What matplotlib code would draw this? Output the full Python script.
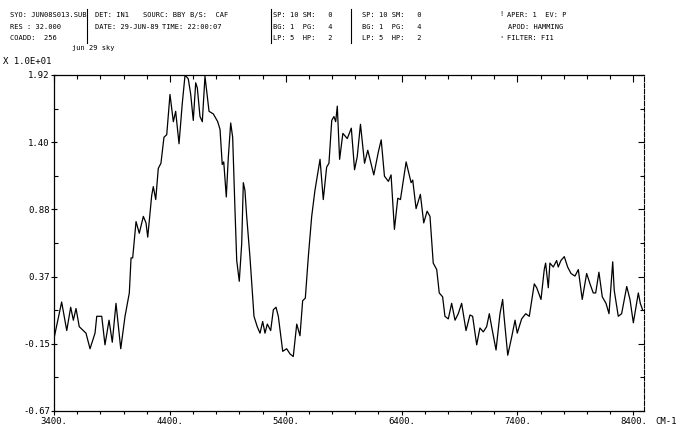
import matplotlib
matplotlib.use("Agg")
import matplotlib.pyplot as plt
from matplotlib.ticker import FixedLocator, MultipleLocator

# ---- data (wavenumber cm-1, signal x 1.0E+01) ----
wavenumber = [
    3400, 3466, 3510, 3544, 3567, 3590, 3618, 3653, 3676, 3711, 3754, 3769, 3812, 3840,
    3875, 3903, 3935, 3976, 4013, 4050, 4065, 4079, 4108, 4136, 4171, 4194, 4209, 4243,
    4257, 4278, 4300, 4323, 4349, 4373, 4401, 4430, 4450, 4479, 4507, 4531, 4559, 4580,
    4602, 4623, 4637, 4660, 4680, 4703, 4738, 4775, 4813, 4833, 4852, 4865, 4887, 4904,
    4925, 4942, 4962, 4977, 4999, 5020, 5034, 5048, 5063, 5091, 5126, 5154, 5178, 5201,
    5221, 5241, 5270, 5293, 5316, 5336, 5374, 5408, 5437, 5465, 5495, 5523, 5546, 5569,
    5595, 5624, 5652, 5696, 5724, 5753, 5773, 5797, 5816, 5831, 5845, 5865, 5893, 5931,
    5966, 5994, 6017, 6045, 6080, 6108, 6160, 6200, 6224, 6252, 6286, 6309, 6338, 6367,
    6390, 6439, 6482, 6496, 6525, 6562, 6591, 6620, 6645, 6673, 6703, 6725, 6754, 6774,
    6803, 6832, 6861, 6889, 6918, 6956, 6990, 7013, 7048, 7076, 7105, 7134, 7157, 7177,
    7215, 7249, 7272, 7284, 7316, 7350, 7379, 7398, 7436, 7471, 7502, 7545, 7566, 7603,
    7631, 7643, 7666, 7680, 7709, 7738, 7752, 7775, 7804, 7833, 7862, 7896, 7925, 7959,
    7997, 8026, 8054, 8075, 8103, 8132, 8164, 8190, 8222, 8235, 8270, 8299, 8343, 8371,
    8400, 8443, 8460, 8480,
]
signal = [
    -0.11, 0.17, -0.05, 0.13, 0.03, 0.12, -0.02, -0.05, -0.07, -0.19, -0.07, 0.06, 0.06, -0.16,
    0.03, -0.14, 0.16, -0.19, 0.06, 0.24, 0.51, 0.51, 0.79, 0.70, 0.83, 0.78, 0.67, 0.99,
    1.06, 0.96, 1.20, 1.24, 1.44, 1.46, 1.77, 1.56, 1.64, 1.39, 1.70, 1.92, 1.89, 1.77,
    1.57, 1.86, 1.82, 1.60, 1.56, 1.91, 1.64, 1.62, 1.56, 1.50, 1.23, 1.25, 0.98, 1.28,
    1.55, 1.44, 0.88, 0.49, 0.33, 0.62, 1.09, 1.03, 0.83, 0.52, 0.06, -0.02, -0.07, 0.02,
    -0.07, 0.00, -0.05, 0.11, 0.13, 0.06, -0.21, -0.19, -0.23, -0.25, 0.00, -0.09, 0.18, 0.20,
    0.52, 0.83, 1.03, 1.27, 0.96, 1.21, 1.24, 1.57, 1.60, 1.56, 1.68, 1.27, 1.47, 1.43,
    1.51, 1.19, 1.29, 1.54, 1.24, 1.34, 1.15, 1.33, 1.42, 1.14, 1.10, 1.15, 0.73, 0.97,
    0.96, 1.25, 1.09, 1.11, 0.89, 1.00, 0.78, 0.87, 0.83, 0.47, 0.42, 0.24, 0.21, 0.06,
    0.04, 0.16, 0.03, 0.08, 0.16, -0.05, 0.07, 0.06, -0.16, -0.03, -0.06, -0.02, 0.08, -0.02,
    -0.20, 0.08, 0.19, 0.06, -0.24, -0.10, 0.03, -0.07, 0.04, 0.08, 0.06, 0.31, 0.28, 0.19,
    0.42, 0.47, 0.28, 0.47, 0.44, 0.49, 0.44, 0.49, 0.52, 0.44, 0.39, 0.37, 0.42, 0.19,
    0.39, 0.31, 0.24, 0.24, 0.40, 0.21, 0.16, 0.08, 0.48, 0.26, 0.06, 0.08, 0.29, 0.19,
    0.01, 0.24, 0.16, 0.11,
]
x_ticks = [3400, 4400, 5400, 6400, 7400, 8400]
x_ticklabels = ["3400.", "4400.", "5400.", "6400.", "7400.", "8400."]
y_ticks = [-0.67, -0.152, 0.366, 0.884, 1.402, 1.92]
y_ticklabels = ["-0.67", "-0.15", "0.37", "0.88", "1.40", "1.92"]

W, H = 684, 428
fig = plt.figure(figsize=(W / 100, H / 100), dpi=100)
mono = "DejaVu Sans Mono"

ax = fig.add_axes([54 / W, 1 - 411 / H, (644 - 54) / W, (411 - 75) / H])
ax.plot(wavenumber, signal, color="black", lw=0.9)
ax.set_xlim(3400, 8492)
ax.set_ylim(-0.67, 1.92)

y_minor = [(a + b) / 2 for a, b in zip(y_ticks[:-1], y_ticks[1:])]

ax.xaxis.set_major_locator(FixedLocator(x_ticks))
ax.set_xticklabels(x_ticklabels, fontfamily=mono, fontsize=6.5)
ax.xaxis.set_minor_locator(MultipleLocator(200))
ax.yaxis.set_major_locator(FixedLocator(y_ticks))
ax.set_yticklabels(y_ticklabels, fontfamily=mono, fontsize=6.5)
ax.yaxis.set_minor_locator(FixedLocator(y_minor))

ax.tick_params(axis="x", which="major", direction="out", length=3, width=0.8, pad=1.5)
ax.tick_params(axis="x", which="minor", direction="out", length=2, width=0.8)
ax.tick_params(axis="y", which="major", direction="inout", length=5, width=0.8, pad=0.5)
ax.tick_params(axis="y", which="minor", direction="in", length=3, width=0.8)

# top and right: inward ticks, no labels
top = ax.secondary_xaxis("top")
top.xaxis.set_major_locator(FixedLocator(x_ticks))
top.xaxis.set_minor_locator(MultipleLocator(200))
top.tick_params(which="major", direction="in", length=5, width=0.8, labeltop=False)
top.tick_params(which="minor", direction="in", length=3, width=0.8)
top.spines["top"].set_linewidth(0.9)

right = ax.secondary_yaxis("right")
right.yaxis.set_major_locator(FixedLocator(y_ticks))
right.yaxis.set_minor_locator(FixedLocator(y_minor))
right.tick_params(which="major", direction="in", length=4, width=0.8, labelright=False)
right.tick_params(which="minor", direction="in", length=3, width=0.8)
right.spines["right"].set_linestyle((0, (4, 1.5)))
right.spines["right"].set_linewidth(0.8)

for sp in ax.spines.values():
    sp.set_linewidth(0.9)
ax.spines["right"].set_visible(False)
ax.spines["top"].set_visible(False)

def t(x, y, s, size=5, **kw):
    fig.text(x / W, 1 - y / H, s, fontsize=size, fontfamily=mono, va="center", ha="left", **kw)

# header block
t(10, 15, "SYO: JUN08S013.SUB")
t(10, 27, "RES : 32.000")
t(10, 38, "COADD:  256")
t(95, 15, "DET: IN1")
t(143, 15, "SOURC: BBY")
t(190, 15, "B/S:  CAF")
t(95, 27, "DATE: 29-JUN-89")
t(162, 27, "TIME: 22:00:07")
t(72, 48, "jun 29 sky")
for x0 in (273, 362):
    t(x0, 15, "SP: 10 SM:   0")
    t(x0, 27, "BG: 1  PG:   4")
    t(x0, 38, "LP: 5  HP:   2")
t(507, 15, "APER: 1  EV: P")
t(508, 27, "APOD: HAMMING")
t(507, 38, "FILTER: FI1")
t(499, 14, "!")
t(499, 38, "'")
t(3, 61, "X 1.0E+01", size=6.5)
t(655, 422, "CM-1", size=6.5)

for xb in (87, 270.5, 351.5):
    fig.add_artist(plt.Line2D([xb / W, xb / W], [1 - 9 / H, 1 - 43 / H], color="black", lw=0.8))

fig.savefig("out.png", dpi=100)
